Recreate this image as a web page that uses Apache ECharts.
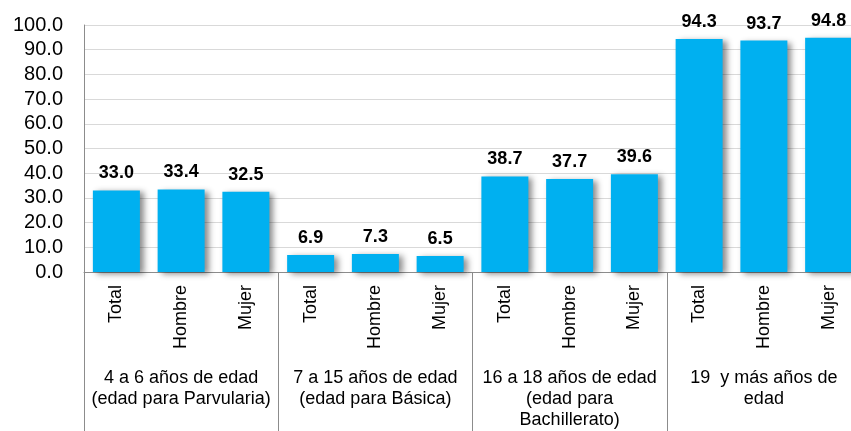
<!DOCTYPE html>
<html>
<head>
<meta charset="utf-8">
<script src="https://cdn.jsdelivr.net/npm/echarts@6/dist/echarts.min.js"></script>
<style>
  html, body { margin: 0; padding: 0; background: #fff; }
  #chart { width: 851px; height: 431px; }
</style>
</head>
<body>
<div id="chart"></div>
<script>
// datos
var categorias = ["Total", "Hombre", "Mujer", "Total", "Hombre", "Mujer",
  "Total", "Hombre", "Mujer", "Total", "Hombre", "Mujer"];
var valores = [33.0, 33.4, 32.5, 6.9, 7.3, 6.5, 38.7, 37.7, 39.6, 94.3, 93.7, 94.8];
var grupos = [
  "4 a 6 años de edad\n(edad para Parvularia)",
  "7 a 15 años de edad\n(edad para Básica)",
  "16 a 18 años de edad\n(edad para\nBachillerato)",
  "19  y más años de\nedad"
];
var yMin = 0, yMax = 100, yPaso = 10;

var fuente = "Liberation Sans, Arial, sans-serif";
var chart = echarts.init(document.getElementById("chart"));
chart.setOption({
  animation: false,
  grid: { left: 84, top: 25, right: -10, bottom: 159, outerBoundsMode: "none", containLabel: false },
  xAxis: [
    {
      type: "category",
      data: categorias,
      axisLine: { lineStyle: { color: "#8c8c8c" } },
      axisTick: { show: false },
      axisLabel: {
        interval: 0, rotate: 90, margin: 13,
        color: "#000", fontFamily: fuente, fontSize: 18
      }
    },
    {
      type: "category",
      data: grupos,
      position: "bottom",
      axisLine: { show: false },
      axisTick: { show: true, interval: 0, length: 160, lineStyle: { color: "#8c8c8c" } },
      axisLabel: {
        interval: 0, margin: 96, lineHeight: 21,
        color: "#000", fontFamily: fuente, fontSize: 18
      }
    }
  ],
  yAxis: {
    type: "value",
    min: yMin, max: yMax, interval: yPaso,
    axisLine: { show: true, lineStyle: { color: "#8c8c8c" } },
    axisTick: { show: false },
    splitLine: { lineStyle: { color: "#d9d9d9" } },
    axisLabel: {
      margin: 21, color: "#000", fontFamily: fuente, fontSize: 20,
      formatter: function (v) { return v.toFixed(1); }
    }
  },
  series: [
    {
      type: "bar",
      data: valores,
      barWidth: 47,
      itemStyle: {
        color: "#00b0f0",
        shadowColor: "rgba(0,0,0,0.45)",
        shadowBlur: 6,
        shadowOffsetX: 4,
        shadowOffsetY: 2
      },
      label: {
        show: true, position: "top", distance: 8,
        color: "#000", fontFamily: fuente, fontSize: 18, fontWeight: "bold",
        formatter: function (p) { return p.value.toFixed(1); }
      }
    }
  ]
});
</script>
</body>
</html>
